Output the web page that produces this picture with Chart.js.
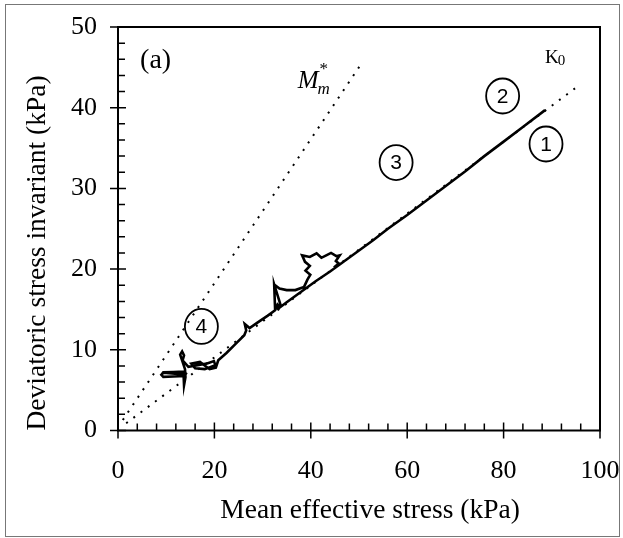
<!DOCTYPE html>
<html>
<head>
<meta charset="utf-8">
<script src="https://cdn.jsdelivr.net/npm/chart.js@4/dist/chart.umd.min.js"></script>
<style>
  html,body{margin:0;padding:0;background:#fff;}
  canvas{display:block;}
</style>
</head>
<body>
<canvas id="chart" width="623" height="538"></canvas>
<script>
// axis ticks
const xTickValues = [0, 20, 40, 60, 80, 100];
const yTickValues = [0, 10, 20, 30, 40, 50];
const xMinorStep = 4;
const yMinorStep = 2;
const xTitle = 'Mean effective stress (kPa)';
const yTitle = 'Deviatoric stress invariant (kPa)';

// measured stress path p' / q (kPa), null = pen lifted
const pathP = [
  9.0, 9.4, 11.5, 13.6, 14.1, 13.8, 11.5, 9.4, 9.0, 9.4, 13.6,
  13.7, 14.0, 13.9, 13.3, 12.9, 13.3, 13.7, 13.4, 14.6, 16.5, 18.5, 19.9, 20.2,
  18.0, 16.0, 15.2, 17.0, 19.0, 20.3, 20.8,
  22.5, 24.5, 26.2, 26.6, 26.3, 27.3, 29.0, 31.0, 32.6, 33.1, 33.6, 33.0, 35.0,
  38.0, 41.0, 44.0, 47.0, 50.0, 53.0, 56.0, 60.0, 64.0, 68.0, 72.0, 76.0, 80.0,
  84.0, 88.6,
  null,
  32.6, 32.4, 33.4, 33.8,
  null,
  32.4, 33.5, 35.0, 36.8, 38.6, 39.3, 39.9, 38.9, 39.8, 38.8, 38.2, 39.8, 41.2,
  42.2, 43.2, 44.2, 45.3, 46.0, 45.2, 45.8, 44.8
];
const pathQ = [
  6.9, 7.2, 7.25, 7.3, 7.05, 6.75, 6.7, 6.65, 6.9, 7.15, 6.95,
  5.6, 6.6, 7.6, 8.7, 9.4, 9.8, 9.3, 8.7, 7.9, 8.1, 8.3, 8.6, 8.1,
  7.6, 7.7, 8.3, 8.5, 7.6, 7.8, 8.7,
  9.6, 10.8, 11.8, 12.4, 13.2, 12.7, 13.4, 14.2, 14.9, 15.6, 15.3, 15.0, 15.9,
  17.2, 18.5, 19.7, 21.0, 22.3, 23.6, 25.0, 26.7, 28.5, 30.3, 32.1, 34.0, 35.8,
  37.6, 39.7,
  null,
  14.9, 18.1, 16.2, 15.4,
  null,
  18.1, 17.6, 17.4, 17.4, 17.8, 18.7, 19.3, 19.8, 20.4, 20.9, 21.7, 21.5, 21.95,
  21.4, 21.7, 22.0, 21.6, 21.7, 21.0, 20.7, 20.2
];

// reference lines
const mLineP = [1.0, 50.2];
const mLineQ = [1.3, 45.2];
const k0LineP = [1.7, 95.5];
const k0LineQ = [0.9, 42.7];

// stage markers
const stageLabels = ['1', '2', '3', '4'];
const stageP = [88.8, 79.8, 57.7, 17.3];
const stageQ = [35.5, 41.45, 33.2, 12.9];

const serif = 'Liberation Serif, Times New Roman, serif';
const toPts = (xs, ys) => xs.map((v, i) => ({x: v, y: ys[i]}));

const frameTicks = {
  id: 'frameTicks',
  beforeDraw(chart){
    const ctx = chart.ctx;
    ctx.save();
    ctx.fillStyle = '#fff';
    ctx.fillRect(0, 0, chart.width, chart.height);
    ctx.strokeStyle = '#777';
    ctx.lineWidth = 1;
    ctx.strokeRect(5.5, 4.5, chart.width - 9, chart.height - 6);
    ctx.restore();
  },
  afterDraw(chart){
    const {ctx, chartArea: a, scales: {x, y}} = chart;
    ctx.save();
    ctx.strokeStyle = '#000';
    ctx.lineWidth = 2;
    ctx.strokeRect(a.left, a.top, a.right - a.left, a.bottom - a.top);
    ctx.lineWidth = 1.5;
    ctx.beginPath();
    for (let v = 0; v <= 100; v += xMinorStep) {
      const px = x.getPixelForValue(v);
      if (xTickValues.includes(v)) { ctx.moveTo(px, a.bottom - 8); ctx.lineTo(px, a.bottom + 8); }
      else { ctx.moveTo(px, a.bottom); ctx.lineTo(px, a.bottom - 7); }
    }
    for (let v = 0; v <= 50; v += yMinorStep) {
      const py = y.getPixelForValue(v);
      if (yTickValues.includes(v)) { ctx.moveTo(a.left - 8, py); ctx.lineTo(a.left + 8, py); }
      else { ctx.moveTo(a.left, py); ctx.lineTo(a.left + 7, py); }
    }
    ctx.stroke();
    // x title sits a little right of the plot centre in the original
    ctx.fillStyle = '#000';
    ctx.font = '27.5px ' + serif;
    ctx.textAlign = 'center';
    ctx.textBaseline = 'middle';
    ctx.fillText(xTitle, x.getPixelForValue(52.3), a.bottom + 80);
    ctx.restore();
  }
};

const notes = {
  id: 'notes',
  afterDatasetsDraw(chart){
    const {ctx, scales: {x, y}} = chart;
    ctx.save();
    ctx.fillStyle = '#000';
    ctx.strokeStyle = '#000';
    // circled stage numbers
    ctx.lineWidth = 1.8;
    ctx.font = '21px Liberation Sans, Arial, sans-serif';
    ctx.textAlign = 'center';
    ctx.textBaseline = 'middle';
    stageLabels.forEach((s, i) => {
      const cx = x.getPixelForValue(stageP[i]);
      const cy = y.getPixelForValue(stageQ[i]);
      ctx.beginPath();
      ctx.ellipse(cx, cy, 16.5, 17.5, 0, 0, Math.PI * 2);
      ctx.stroke();
      ctx.fillText(s, cx, cy + 1);
    });
    // panel tag
    ctx.font = '28px ' + serif;
    ctx.fillText('(a)', x.getPixelForValue(7.8), y.getPixelForValue(45.8));
    // K0
    ctx.textAlign = 'left';
    ctx.textBaseline = 'alphabetic';
    const kx = x.getPixelForValue(88.6), ky = y.getPixelForValue(45.5);
    ctx.font = '19px ' + serif;
    ctx.fillText('K', kx, ky);
    const kw = ctx.measureText('K').width;
    ctx.font = '15px ' + serif;
    ctx.fillText('0', kx + kw - 1, ky + 2);
    // M*m
    const mx = x.getPixelForValue(37.3), my = y.getPixelForValue(42.4);
    ctx.font = 'italic 25px ' + serif;
    ctx.fillText('M', mx, my);
    const mw = ctx.measureText('M').width;
    ctx.font = '17px ' + serif;
    ctx.fillText('*', mx + mw + 1, my - 14);
    ctx.font = 'italic 17px ' + serif;
    ctx.fillText('m', mx + mw - 1, my + 6);
    ctx.restore();
  }
};

new Chart(document.getElementById('chart'), {
  type: 'scatter',
  data: {
    datasets: [
      {data: toPts(mLineP, mLineQ), showLine: true, borderColor: '#000', borderWidth: 2,
       borderDash: [2, 7], pointRadius: 0},
      {data: toPts(k0LineP, k0LineQ), showLine: true, borderColor: '#000', borderWidth: 2,
       borderDash: [2, 7], pointRadius: 0},
      {data: toPts(pathP, pathQ), showLine: true, spanGaps: false, borderColor: '#000',
       borderWidth: 2.6, pointRadius: 0, tension: 0}
    ]
  },
  options: {
    responsive: false,
    animation: false,
    events: [],
    layout: {padding: {left: 0, right: 23, top: 27, bottom: 0}},
    plugins: {legend: {display: false}, tooltip: {enabled: false}},
    scales: {
      x: {
        type: 'linear', min: 0, max: 100,
        afterBuildTicks: s => { s.ticks = xTickValues.map(v => ({value: v})); },
        afterFit: s => { s.height = 107.5; s.paddingLeft = 0; s.paddingRight = 0; },
        grid: {display: false, drawTicks: false},
        border: {display: false},
        ticks: {color: '#000', padding: 25, maxRotation: 0, font: {family: serif, size: 26}},
        title: {display: false}
      },
      y: {
        type: 'linear', min: 0, max: 50,
        afterBuildTicks: s => { s.ticks = yTickValues.map(v => ({value: v})); },
        afterFit: s => { s.width = 118; s.paddingTop = 0; s.paddingBottom = 0; },
        grid: {display: false, drawTicks: false},
        border: {display: false},
        ticks: {color: '#000', padding: 21, font: {family: serif, size: 26}},
        title: {display: true, text: yTitle, color: '#000', align: 'start',
                font: {family: serif, size: 27.5}, padding: {top: 21, bottom: 0}}
      }
    }
  },
  plugins: [frameTicks, notes]
});
</script>
</body>
</html>
